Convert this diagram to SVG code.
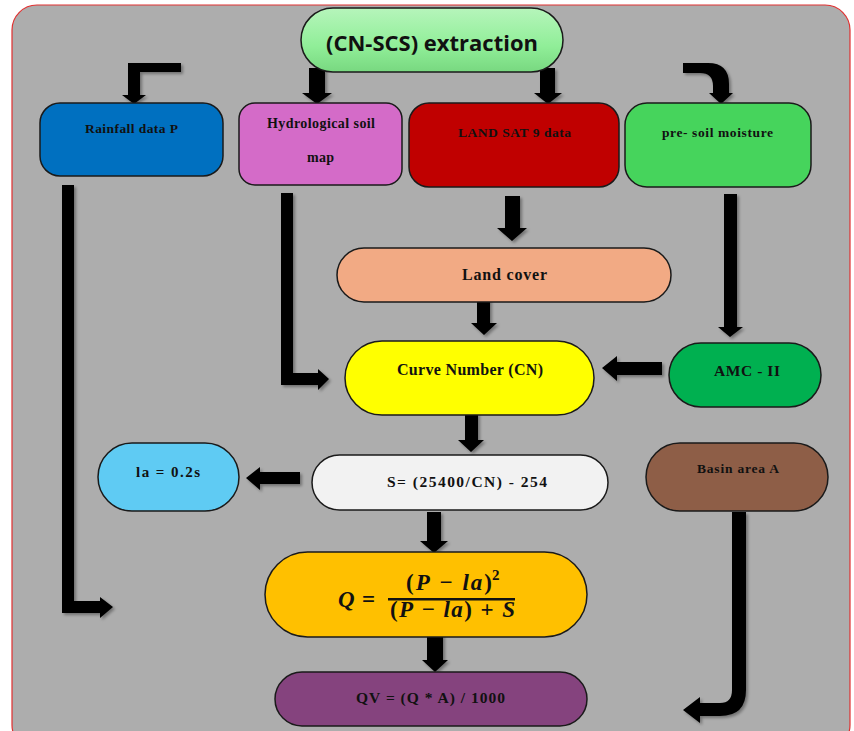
<svg xmlns="http://www.w3.org/2000/svg" width="854" height="731" viewBox="0 0 854 731">
<defs>
<style>
.node{stroke:#1a1a1a;stroke-width:1.5}
.t{font-family:"Liberation Serif","Times New Roman",serif;font-weight:bold;fill:#111;text-anchor:middle}
.arr{fill:#000;filter:url(#sh)}
.m{font-family:"Liberation Serif","Times New Roman",serif;font-weight:bold;fill:#111}
</style>
<filter id="sh" x="-30%" y="-30%" width="160%" height="160%">
<feDropShadow dx="2" dy="2" stdDeviation="1.5" flood-color="#000" flood-opacity="0.35"/>
</filter>
<linearGradient id="gg" x1="0" y1="0" x2="0" y2="1">
<stop offset="0" stop-color="#b6f5bb"/>
<stop offset="0.6" stop-color="#90ee98"/>
<stop offset="1" stop-color="#78d880"/>
</linearGradient>
</defs>
<rect x="0" y="0" width="854" height="731" fill="#ffffff"/>
<rect x="12" y="5" width="838" height="745" rx="25" fill="#adadad" stroke="#e03030" stroke-width="1.2"/>

<g id="connectors">
<path class="arr" d="M181,63 L128,63 L128,95 L122,95 L134,104 L146,95 L140,95 L140,72 L181,72 Z"/>
<path class="arr" d="M309,68 L325,68 L325,93 L332,93 L317,104 L302,93 L309,93 Z"/>
<path class="arr" d="M540,68 L555,68 L555,93 L562,93 L548,104 L534,93 L540,93 Z"/>
<path class="arr" d="M683,63 L708,63 Q729,63 729,84 L729,93 L733,93 L721,104 L709,93 L713,93 L713,86 Q713,73 700,73 L683,73 Z"/>
<path class="arr" d="M62,185 L74,185 L74,601 L100,601 L100,597 L113,607 L100,618 L100,613 L62,613 Z"/>
<path class="arr" d="M281,193 L293,193 L293,373 L318,373 L318,369 L329,379 L318,390 L318,385 L281,385 Z"/>
<path class="arr" d="M505,196 L520,196 L520,228 L527,228 L512,241 L497,228 L505,228 Z"/>
<path class="arr" d="M477,297 L490,297 L490,323 L497,323 L484,335 L471,323 L477,323 Z"/>
<path class="arr" d="M724,194 L737,194 L737,327 L743,327 L730,337 L718,327 L724,327 Z"/>
<path class="arr" d="M662,362 L617,362 L617,356 L602,368 L617,381 L617,375 L662,375 Z"/>
<path class="arr" d="M465,413 L478,413 L478,440 L484,440 L471,452 L458,440 L465,440 Z"/>
<path class="arr" d="M300,472 L260,472 L260,467 L246,478 L260,490 L260,484 L300,484 Z"/>
<path class="arr" d="M427,512 L441,512 L441,541 L448,541 L434,553 L420,541 L427,541 Z"/>
<path class="arr" d="M427,632 L443,632 L443,660 L448,660 L435,672 L422,660 L427,660 Z"/>
<path class="arr" d="M732,512 L746,512 L746,690 Q746,716 720,716 L700,716 L700,723 L683,710 L700,697 L700,703 L720,703 Q732,703 732,690 Z"/>
</g>

<g id="n-cnscs">
<rect x="301" y="8" width="262" height="64" rx="32" fill="url(#gg)" stroke="#1a1a1a" stroke-width="1.5"/>
<text x="432" y="51" font-family="'Open Sans','Liberation Sans',sans-serif" font-weight="bold" font-size="21" fill="#111" text-anchor="middle" textLength="212" lengthAdjust="spacingAndGlyphs">(CN-SCS) extraction</text>
</g>
<g id="n-rain">
<rect class="node" x="40" y="103" width="183" height="73" rx="20" fill="#0070c0"/>
<text class="t" x="131.5" y="133" font-size="13.5" textLength="93" lengthAdjust="spacing">Rainfall data P</text>
</g>
<g id="n-hydro">
<rect class="node" x="239" y="103" width="163" height="82" rx="16" fill="#d46bc8"/>
<text class="t" x="321" y="128" font-size="14" textLength="108" lengthAdjust="spacing">Hydrological soil</text>
<text class="t" x="320.5" y="162" font-size="14" textLength="27" lengthAdjust="spacing">map</text>
</g>
<g id="n-landsat">
<rect class="node" x="409" y="103" width="210" height="84" rx="20" fill="#c00000"/>
<text class="t" x="514.5" y="137" font-size="13.5" textLength="113" lengthAdjust="spacing">LAND SAT 9 data</text>
</g>
<g id="n-presoil">
<rect class="node" x="625" y="103" width="186" height="84" rx="22" fill="#46d45c"/>
<text class="t" x="717.5" y="137" font-size="13.5" textLength="111" lengthAdjust="spacing">pre- soil moisture</text>
</g>
<g id="n-landcover">
<rect class="node" x="337" y="248" width="334" height="54" rx="27" fill="#f2aa84"/>
<text class="t" x="504.5" y="280" font-size="16" textLength="85" lengthAdjust="spacing">Land cover</text>
</g>
<g id="n-cn">
<rect class="node" x="345" y="341" width="249" height="74" rx="37" fill="#ffff00"/>
<text class="t" x="470" y="375" font-size="16" textLength="146" lengthAdjust="spacing">Curve Number (CN)</text>
</g>
<g id="n-amc">
<rect class="node" x="669" y="343" width="152" height="64" rx="32" fill="#00b050"/>
<text class="t" x="747" y="376" font-size="15.5" textLength="66" lengthAdjust="spacing">AMC -  II</text>
</g>
<g id="n-la">
<rect class="node" x="98" y="443" width="141" height="68" rx="34" fill="#5fcbf3"/>
<text class="t" x="168" y="477" font-size="15" textLength="64" lengthAdjust="spacing">la = 0.2s</text>
</g>
<g id="n-s">
<rect class="node" x="312" y="455" width="296" height="55" rx="27.5" fill="#f2f2f2"/>
<text class="t" x="467" y="487" font-size="15.5" textLength="160" lengthAdjust="spacing">S= (25400/CN) -  254</text>
</g>
<g id="n-basin">
<rect class="node" x="646" y="443" width="182" height="68" rx="34" fill="#8e5e47"/>
<text class="t" x="738" y="473" font-size="13.5" textLength="82" lengthAdjust="spacing">Basin area A</text>
</g>
<g id="n-q">
<rect class="node" x="265" y="552" width="322" height="85" rx="42.5" fill="#ffc000"/>
<text class="m" x="338" y="607" font-size="23" font-style="italic">Q</text>
<text class="m" x="362" y="607" font-size="23">=</text>
<text class="m" x="406" y="590" font-size="23" textLength="86" lengthAdjust="spacing">(<tspan font-style="italic">P</tspan> − <tspan font-style="italic">la</tspan>)</text>
<text class="m" x="492" y="580" font-size="15">2</text>
<rect x="388" y="598" width="127" height="2.5" fill="#111"/>
<text class="m" x="390" y="617" font-size="23" textLength="125" lengthAdjust="spacing">(<tspan font-style="italic">P</tspan> − <tspan font-style="italic">la</tspan>) + <tspan font-style="italic">S</tspan></text>
</g>
<g id="n-qv">
<rect class="node" x="275" y="672" width="312" height="54" rx="27" fill="#85437e"/>
<text class="t" x="430.5" y="703" font-size="15.5" textLength="149" lengthAdjust="spacing">QV = (Q *  A) / 1000</text>
</g>
</svg>
